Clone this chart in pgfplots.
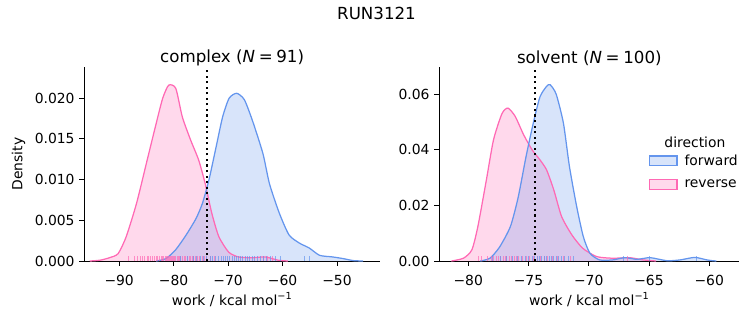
\documentclass[border=0pt]{standalone}
\usepackage{fontspec}
\setmainfont{DejaVu Sans}
\usepackage{pgfplots}
\usepackage{pgfplotstable}
\pgfplotsset{compat=1.18}
\definecolor{fwd}{HTML}{6495ED}
\definecolor{rev}{HTML}{FF69B4}

% complex, reverse KDE
\pgfplotstableread{
x y
-95.4 0
-93.5 0.0001
-91.8 0.0004
-90.2 0.0009
-88.7 0.0030
-86.8 0.0071
-85.0 0.0120
-83.2 0.0169
-82.0 0.0200
-80.9 0.0216
-79.6 0.0212
-78.4 0.0177
-76.9 0.0149
-75.4 0.0124
-74.2 0.0095
-73.0 0.0059
-71.7 0.0030
-69.9 0.0011
-68.1 0.0005
-65.6 0.0004
-63.2 0.0005
-60.8 0.0001
-59.0 0
}\cRev
% complex, forward KDE
\pgfplotstableread{
x y
-83.2 0
-81.4 0.0003
-79.6 0.0014
-77.7 0.0032
-75.9 0.0052
-74.7 0.0071
-73.5 0.0100
-72.2 0.0140
-71.0 0.0177
-69.8 0.0200
-68.4 0.0206
-67.0 0.0198
-65.5 0.0172
-63.6 0.0132
-62.4 0.0095
-60.6 0.0059
-58.8 0.0032
-56.9 0.0022
-55.1 0.0016
-53.2 0.0007
-50.8 0.0005
-48.9 0.0003
-47.0 0.00005
-45.2 0
}\cFwd
% solvent, reverse KDE
\pgfplotstableread{
x y
-81.4 0
-80.4 0.0010
-79.7 0.0040
-79.2 0.0124
-78.5 0.0290
-77.9 0.0436
-77.2 0.0530
-76.7 0.0550
-76.1 0.0520
-75.4 0.0454
-74.7 0.0400
-74.05 0.0364
-73.5 0.0328
-72.9 0.0256
-72.25 0.0160
-71.4 0.0094
-70.5 0.0046
-69.35 0.0016
-68.0 0.0010
-66.6 0.0012
-65.5 0.0004
-64.4 0
}\sRev
% solvent, forward KDE
\pgfplotstableread{
x y
-79.0 0
-78.2 0.0010
-77.4 0.0050
-76.5 0.0124
-75.85 0.0230
-75.2 0.0376
-74.6 0.0496
-74.05 0.0590
-73.5 0.0628
-73.2 0.0634
-72.7 0.0600
-72.1 0.0496
-71.6 0.0340
-71.0 0.0196
-70.45 0.0088
-69.9 0.0028
-69.1 0.0004
-68.0 0.0004
-67.0 0.0012
-66.0 0.0006
-64.9 0.0012
-63.5 0.0001
-62.4 0.0004
-61.2 0.0013
-60.2 0.0004
-59.7 0.0001
-59.4 0
}\sFwd

\pgfplotsset{
  common/.style={
    scale only axis,
    anchor=south west,
    axis x line*=bottom,
    axis y line*=left,
    axis line style={-, line width=0.6pt},
    tick align=outside,
    major tick length=3.5pt,
    tick style={black, line width=0.6pt},
    ymin=0,
    font=\fontsize{10}{12}\selectfont,
    tick label style={font=\fontsize{10}{12}\selectfont},
    xticklabel style={yshift=-3pt},
    /pgf/number format/assume math mode=true,
    scaled y ticks=false,
    yticklabel style={/pgf/number format/.cd, fixed, fixed zerofill},
    title style={font=\fontsize{12}{14}\selectfont, yshift=-8.5pt},
    xlabel={work / kcal mol\textsuperscript{−1}},
    xlabel style={yshift=1.5pt},
    label style={font=\fontsize{10}{12}\selectfont},
    clip=true,
  },
  kfill/.style={draw=none, fill=#1, fill opacity=0.25, smooth, tension=0.4, forget plot},
  kline/.style={draw=#1, line width=0.9pt, smooth, tension=0.4, forget plot},
  rug/.style={ycomb, draw=#1, draw opacity=0.7, line width=0.5pt, mark=none, forget plot},
}

\begin{document}
\begin{tikzpicture}[x=1pt,y=1pt]
\useasboundingbox (0,0) rectangle (542.16,234);
\node[font=\fontsize{12}{14}\selectfont] at (271.08,224.6) {RUN3121};

\begin{axis}[common,
  at={(60.7pt,46.08pt)}, width=212.9pt, height=139.5pt,
  xmin=-96.4, xmax=-42.1, ymax=0.0238,
  xtick={-90,-80,-70,-60,-50},
  xticklabels={−90,−80,−70,−60,−50},
  ytick={0,0.005,0.01,0.015,0.02},
  yticklabel style={/pgf/number format/precision=3},
  ylabel={Density},
  title={complex (\textit{N}\hspace{0.22em}=\hspace{0.22em}91)},
]
\addplot[kfill=rev] table[x=x,y=y]{\cRev} \closedcycle;
\addplot[kfill=fwd] table[x=x,y=y]{\cFwd} \closedcycle;
\addplot[kline=rev] table[x=x,y=y]{\cRev};
\addplot[kline=fwd] table[x=x,y=y]{\cFwd};
\addplot[rug=rev] coordinates {
(-88.4,0.0006) (-87.2,0.0006) (-86.6,0.0006) (-86.1,0.0006) (-85.7,0.0006) (-85.3,0.0006) (-84.9,0.0006) (-84.6,0.0006) (-84.2,0.0006) (-83.9,0.0006)
(-83.5,0.0006) (-83.2,0.0006) (-82.9,0.0006) (-82.6,0.0006) (-82.3,0.0006) (-82.1,0.0006) (-81.8,0.0006) (-81.6,0.0006) (-81.4,0.0006) (-81.2,0.0006)
(-81.0,0.0006) (-80.8,0.0006) (-80.6,0.0006) (-80.4,0.0006) (-80.2,0.0006) (-80.0,0.0006) (-79.8,0.0006) (-79.6,0.0006) (-79.4,0.0006) (-79.2,0.0006)
(-79.0,0.0006) (-78.7,0.0006) (-78.4,0.0006) (-78.1,0.0006) (-77.8,0.0006) (-77.5,0.0006) (-77.2,0.0006) (-76.9,0.0006) (-76.6,0.0006) (-76.3,0.0006)
(-76.0,0.0006) (-75.6,0.0006) (-75.2,0.0006) (-74.8,0.0006) (-74.4,0.0006) (-73.9,0.0006) (-73.3,0.0006) (-72.6,0.0006) (-63.5,0.0006) (-62.8,0.0006) (-61.9,0.0006)
};
\addplot[rug=fwd] coordinates {
(-78.8,0.0006) (-77.5,0.0006) (-76.4,0.0006) (-75.8,0.0006) (-75.1,0.0006) (-74.5,0.0006) (-73.9,0.0006) (-73.3,0.0006) (-72.8,0.0006) (-72.3,0.0006)
(-71.8,0.0006) (-71.3,0.0006) (-70.9,0.0006) (-70.5,0.0006) (-70.1,0.0006) (-69.7,0.0006) (-69.3,0.0006) (-68.9,0.0006) (-68.5,0.0006) (-68.1,0.0006)
(-67.7,0.0006) (-67.3,0.0006) (-66.9,0.0006) (-66.5,0.0006) (-66.1,0.0006) (-65.6,0.0006) (-65.1,0.0006) (-64.6,0.0006) (-64.1,0.0006) (-63.5,0.0006)
(-62.9,0.0006) (-62.2,0.0006) (-61.4,0.0006) (-60.4,0.0006) (-56.0,0.0006) (-55.1,0.0006)
};
\addplot[black, line width=1.5pt, dash pattern=on 1.5pt off 2.5pt, forget plot] coordinates {(-73.9,0) (-73.9,0.0238)};
\end{axis}

\begin{axis}[common,
  at={(316.3pt,46.08pt)}, width=216pt, height=139.5pt,
  xmin=-82.4, xmax=-57.5, ymax=0.0697,
  xtick={-80,-75,-70,-65,-60},
  xticklabels={−80,−75,−70,−65,−60},
  ytick={0,0.02,0.04,0.06},
  yticklabel style={/pgf/number format/precision=2},
  title={solvent (\textit{N}\hspace{0.22em}=\hspace{0.22em}100)},
  legend style={draw=none, fill=none, at={(0.697,0.565)}, anchor=north west,
    font=\fontsize{10}{12}\selectfont, row sep=4.8pt, inner sep=0pt},
  legend cell align=left,
]
\addplot[kfill=rev] table[x=x,y=y]{\sRev} \closedcycle;
\addplot[kfill=fwd] table[x=x,y=y]{\sFwd} \closedcycle;
\addplot[kline=rev] table[x=x,y=y]{\sRev};
\addplot[kline=fwd] table[x=x,y=y]{\sFwd};
\addplot[rug=rev] coordinates {
(-79.2,0.00174) (-78.9,0.00174) (-78.4,0.00174) (-78.1,0.00174) (-77.9,0.00174) (-77.7,0.00174) (-77.5,0.00174) (-77.3,0.00174) (-77.1,0.00174) (-76.9,0.00174)
(-76.8,0.00174) (-76.6,0.00174) (-76.4,0.00174) (-76.2,0.00174) (-76.0,0.00174) (-75.8,0.00174) (-75.5,0.00174) (-75.2,0.00174) (-74.9,0.00174) (-74.6,0.00174)
(-74.3,0.00174) (-74.0,0.00174) (-73.7,0.00174) (-73.4,0.00174) (-73.0,0.00174) (-72.6,0.00174) (-72.1,0.00174) (-71.5,0.00174) (-66.8,0.00174)
};
\addplot[rug=fwd] coordinates {
(-78.0,0.00174) (-77.3,0.00174) (-76.8,0.00174) (-76.3,0.00174) (-75.9,0.00174) (-75.6,0.00174) (-75.3,0.00174) (-75.0,0.00174) (-74.7,0.00174) (-74.5,0.00174)
(-74.3,0.00174) (-74.1,0.00174) (-73.9,0.00174) (-73.7,0.00174) (-73.5,0.00174) (-73.3,0.00174) (-73.1,0.00174) (-72.9,0.00174) (-72.7,0.00174) (-72.5,0.00174)
(-72.3,0.00174) (-72.0,0.00174) (-71.7,0.00174) (-71.3,0.00174) (-67.1,0.00174) (-65.0,0.00174) (-61.1,0.00174)
};
\addplot[black, line width=1.5pt, dash pattern=on 1.5pt off 2.5pt, forget plot] coordinates {(-74.47,0) (-74.47,0.0697)};
\addlegendimage{legend image code/.code={\draw[draw=fwd, fill=fwd!25, line width=0.8pt] (0pt,-3.5pt) rectangle (20pt,3.5pt);}}
\addlegendentry{\hspace{3pt}forward}
\addlegendimage{legend image code/.code={\draw[draw=rev, fill=rev!25, line width=0.8pt] (0pt,-3.5pt) rectangle (20pt,3.5pt);}}
\addlegendentry{\hspace{3pt}reverse}
\node[font=\fontsize{10}{12}\selectfont] at (axis description cs:0.852,0.614) {direction};
\end{axis}
\end{tikzpicture}
\end{document}
